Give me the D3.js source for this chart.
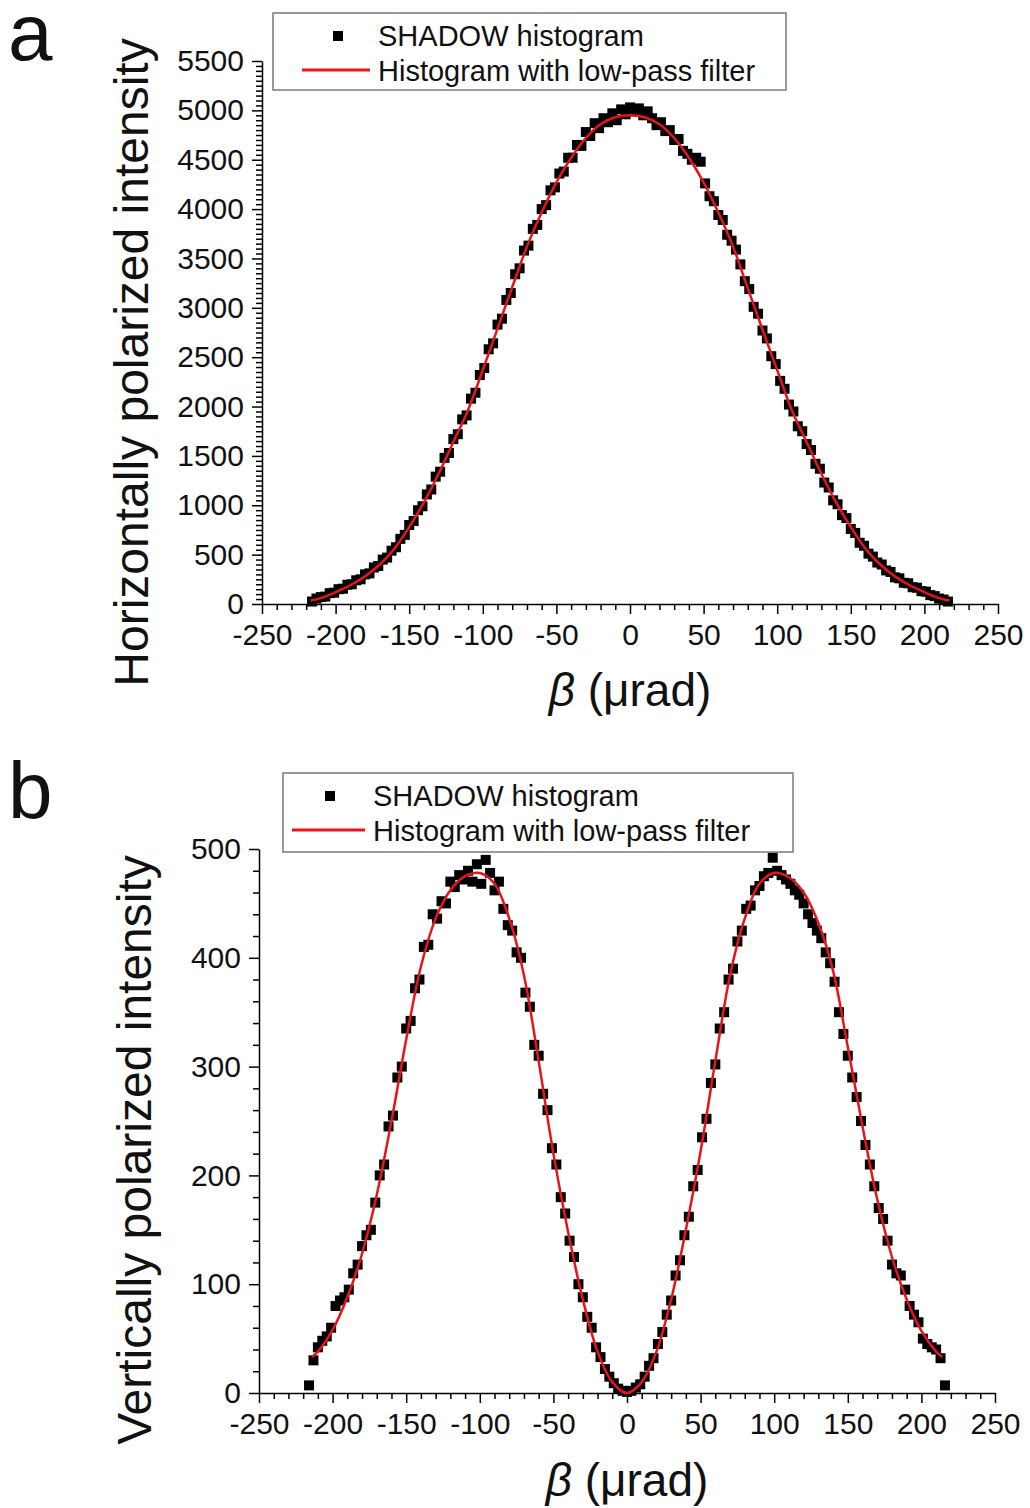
<!DOCTYPE html>
<html>
<head>
<meta charset="utf-8">
<script src="https://d3js.org/d3.v7.min.js"></script>
<style>
body { margin: 0; background: #fff; }
text { font-family: "Liberation Sans", Arial, sans-serif; }
</style>
</head>
<body>
<div id="chart"></div>
<script>
// bin centres (urad), shared by both histograms
var beta = [-216,-213,-210,-207,-204,-201,-198,-195,-192,-189,-186,-183,-180,-177,-174,-171,-168,-165,-162,-159,
  -156,-153,-150,-147,-144,-141,-138,-135,-132,-129,-126,-123,-120,-117,-114,-111,-108,-105,-102,-99,
  -96,-93,-90,-87,-84,-81,-78,-75,-72,-69,-66,-63,-60,-57,-54,-51,-48,-45,-42,-39,
  -36,-33,-30,-27,-24,-21,-18,-15,-12,-9,-6,-3,0,
  3,6,9,12,15,18,21,24,27,30,33,36,39,42,45,48,51,54,57,60,
  63,66,69,72,75,78,81,84,87,90,93,96,99,102,105,108,111,114,117,120,
  123,126,129,132,135,138,141,144,147,150,153,156,159,162,165,168,171,174,177,180,
  183,186,189,192,195,198,201,204,207,210,213,216];

// panel a : horizontally polarized
var shadow_a = [25,55,70,75,110,115,150,155,195,200,240,250,300,310,370,385,450,470,540,575,
  660,700,800,840,950,990,1110,1160,1290,1340,1480,1530,1670,1720,1870,1910,2080,2140,2320,2390,
  2580,2640,2830,2890,3080,3150,3340,3400,3580,3630,3800,3840,4000,4040,4190,4220,4360,4380,4520,4520,
  4650,4640,4780,4740,4870,4820,4920,4880,4970,4900,5010,4960,5030,
  4990,5020,4950,4990,4920,4850,4880,4790,4800,4700,4710,4590,4560,4500,4520,4480,4260,4130,4080,3940,
  3890,3740,3680,3590,3440,3270,3190,3010,2940,2770,2690,2510,2430,2260,2180,2020,1950,1800,1750,1620,
  1560,1420,1370,1230,1180,1050,1010,900,870,760,720,620,590,510,480,420,400,340,325,270,
  260,215,210,170,165,130,125,90,80,55,45,25];
var fit_beta_a = [-217,-210,-200,-190,-180,-170,-160,-150,-140,-130,-120,-110,-100,-90,-80,-70,-60,-50,-40,-30,-20,-10,0,
  10,20,30,40,50,60,70,80,90,100,110,120,130,140,150,160,170,180,190,200,210,217];
var fit_a = [35,60,120,190,280,400,560,780,1030,1320,1640,1965,2370,2790,3210,3620,3965,4270,4520,4720,4860,4930,4950,
  4930,4860,4720,4520,4270,3965,3620,3200,2780,2370,1960,1640,1320,1030,780,560,400,280,190,120,60,35];

// panel b : vertically polarized
var shadow_b = [7,30,42,48,52,60,80,85,88,95,110,118,135,145,150,175,200,210,245,255,
  290,300,335,342,372,380,410,412,440,436,452,450,470,465,476,472,480,470,486,468,
  490,478,462,470,445,430,425,405,400,368,355,320,310,275,260,225,210,180,165,140,
  125,100,88,70,60,42,33,22,15,9,4,2,1,
  2,5,8,15,25,32,45,56,72,85,108,122,145,162,190,205,235,252,285,302,
  335,350,380,390,415,425,445,448,462,466,475,478,492,480,476,472,468,462,458,450,
  440,432,425,418,405,395,378,350,330,310,290,272,250,228,210,190,170,160,140,118,
  110,108,95,80,72,65,50,45,42,40,32,7];
var fit_beta_b = [-214,-210,-200,-190,-180,-170,-160,-150,-140,-130,-120,-110,-100,-90,-80,-70,-60,-50,-40,-30,-20,-10,0,
  10,20,30,40,50,60,70,80,90,100,110,120,130,140,150,160,170,180,190,200,210,214];
var fit_b = [33,38,58,88,128,182,250,325,392,436,462,475,478,468,436,384,305,220,148,86,38,10,0,
  10,38,86,150,222,305,384,436,468,478,474,460,432,388,318,245,178,125,86,57,38,33];

var x_ticks = [-250,-200,-150,-100,-50,0,50,100,150,200,250];
var y_ticks_a = [0,500,1000,1500,2000,2500,3000,3500,4000,4500,5000,5500];
var y_ticks_b = [0,100,200,300,400,500];

var legend_labels = ["SHADOW histogram", "Histogram with low-pass filter"];

var svg = d3.select("#chart").append("svg")
  .attr("width", 1030)
  .attr("height", 1508)
  .style("background", "#fff");

function drawPanel(p) {
  var x = d3.scaleLinear().domain([-250, 250]).range([p.left, p.right]);
  var y = d3.scaleLinear().domain([0, p.ymax]).range([p.bottom, p.top]);
  var g = svg.append("g");

  // minor ticks
  var xMinor = d3.range(-250, 251, 10).filter(function(d){ return d % 50 != 0; });
  var yMinor = d3.range(0, p.ymax + 1, p.yminor).filter(function(d){ return d % p.ymajor != 0; });
  g.append("g").attr("transform", "translate(0," + p.bottom + ")")
    .call(d3.axisBottom(x).tickValues(xMinor).tickSize(6).tickFormat(""))
    .call(function(s){ s.select(".domain").remove(); })
    .selectAll("line").attr("stroke-width", 1.5);
  g.append("g").attr("transform", "translate(" + p.left + ",0)")
    .call(d3.axisLeft(y).tickValues(yMinor).tickSize(6).tickFormat(""))
    .call(function(s){ s.select(".domain").remove(); })
    .selectAll("line").attr("stroke-width", 1.5);

  var gx = g.append("g").attr("transform", "translate(0," + p.bottom + ")")
    .call(d3.axisBottom(x).tickValues(x_ticks).tickSize(10).tickSizeOuter(0).tickPadding(10)
      .tickFormat(function(d){ return String(d); }));
  var gy = g.append("g").attr("transform", "translate(" + p.left + ",0)")
    .call(d3.axisLeft(y).tickValues(p.yticks).tickSize(10).tickSizeOuter(0).tickPadding(8)
      .tickFormat(function(d){ return String(d); }));
  [gx, gy].forEach(function(a){
    a.attr("font-size", 30).attr("font-family", "Liberation Sans, Arial, sans-serif");
    a.selectAll("text").attr("fill", "#111");
    a.selectAll("line").attr("stroke-width", 1.5);
    a.select(".domain").attr("stroke-width", 1.5);
  });

  // histogram squares
  g.append("g").selectAll("rect")
    .data(p.values)
    .enter().append("rect")
    .attr("x", function(d, i){ return x(beta[i]) - 5; })
    .attr("y", function(d){ return y(d) - 5; })
    .attr("width", 10)
    .attr("height", 10)
    .attr("fill", "#000");

  // filtered curve
  var line = d3.line()
    .x(function(d, i){ return x(p.fitx[i]); })
    .y(function(d){ return y(d); })
    .curve(d3.curveCatmullRom);
  g.append("path")
    .datum(p.fit)
    .attr("d", line)
    .attr("fill", "none")
    .attr("stroke", "#e8141c")
    .attr("stroke-width", 2.5);

  // legend
  var L = p.legend;
  g.append("rect")
    .attr("x", L.x).attr("y", L.y).attr("width", L.w).attr("height", L.h)
    .attr("fill", "#fff").attr("stroke", "#7a7a7a").attr("stroke-width", 1.5);
  g.append("rect")
    .attr("x", L.mx - 5).attr("y", L.y + 18).attr("width", 10).attr("height", 10)
    .attr("fill", "#000");
  g.append("line")
    .attr("x1", L.lx1).attr("x2", L.lx2)
    .attr("y1", L.y + 57).attr("y2", L.y + 57)
    .attr("stroke", "#e8141c").attr("stroke-width", 3);
  g.append("text").attr("x", L.tx).attr("y", L.y + 33)
    .attr("font-size", 29).attr("fill", "#111").text(legend_labels[0]);
  g.append("text").attr("x", L.tx).attr("y", L.y + 68)
    .attr("font-size", 29).attr("fill", "#111").text(legend_labels[1]);

  // axis titles
  g.append("text")
    .attr("transform", "translate(" + p.ytitleX + "," + ((p.top + p.bottom) / 2 + p.ytitleDy) + ") rotate(-90)")
    .attr("text-anchor", "middle")
    .attr("font-size", 48)
    .attr("fill", "#111")
    .text(p.ytitle);
  var xt = g.append("text")
    .attr("x", x(0))
    .attr("y", p.xtitleY)
    .attr("text-anchor", "middle")
    .attr("font-size", 46)
    .attr("fill", "#111");
  xt.append("tspan").attr("font-style", "italic").text("\u03b2");
  xt.append("tspan").text(" (\u03bcrad)");

  // panel letter
  svg.append("text")
    .attr("x", 8).attr("y", p.letterY)
    .attr("font-size", 80)
    .attr("font-family", "Open Sans, sans-serif")
    .attr("fill", "#111")
    .text(p.letter);
}

drawPanel({
  left: 262, right: 998, top: 61, bottom: 604,
  ymax: 5500, ymajor: 500, yminor: 50, yticks: y_ticks_a,
  values: shadow_a, fitx: fit_beta_a, fit: fit_a,
  legend: { x: 273, y: 13, w: 513, h: 77, mx: 338, lx1: 302, lx2: 370, tx: 378 },
  ytitle: "Horizontally polarized intensity", ytitleX: 148, ytitleDy: 30,
  xtitleY: 706, letter: "a", letterY: 60
});

drawPanel({
  left: 259, right: 995, top: 849, bottom: 1393,
  ymax: 500, ymajor: 100, yminor: 20, yticks: y_ticks_b,
  values: shadow_b, fitx: fit_beta_b, fit: fit_b,
  legend: { x: 283, y: 773, w: 510, h: 79, mx: 330, lx1: 292, lx2: 365, tx: 373 },
  ytitle: "Vertically polarized intensity", ytitleX: 151, ytitleDy: 29,
  xtitleY: 1496, letter: "b", letterY: 818
});
</script>
</body>
</html>
